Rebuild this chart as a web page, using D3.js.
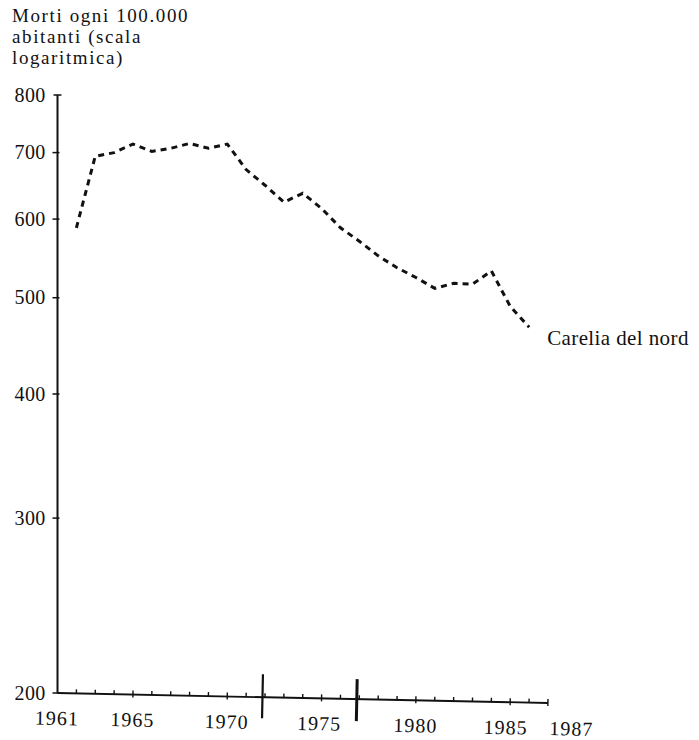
<!DOCTYPE html>
<html>
<head>
<meta charset="utf-8">
<script src="https://cdn.jsdelivr.net/npm/d3@7"></script>
<style>
  html, body { margin: 0; padding: 0; background: #fff; }
  svg { display: block; }
  text { font-family: "Liberation Serif", "Times New Roman", serif; fill: #111; }
</style>
</head>
<body>
<svg id="chart" width="699" height="740"></svg>
<script>
// ---- data ----
const years = [1962,1963,1964,1965,1966,1967,1968,1969,1970,1971,1972,1973,1974,1975,1976,1977,1978,1979,1980,1981,1982,1983,1984,1985,1986];
const deaths = [588,694,700,714,702,707,715,707,714,673,649,624,637,615,588,570,551,536,524,511,517,516,532,490,467];
const yTicks = [200,300,400,500,600,700,800];
const xLabelYears = [1961,1965,1970,1975,1980,1985,1987];
const markerYears = [1972,1977];
const titleLines = ["Morti ogni 100.000", "abitanti (scala", "logaritmica)"];
const seriesLabel = "Carelia del nord";

const svg = d3.select("#chart");

const x = d3.scaleLinear().domain([1961, 1987]).range([57.5, 548]);
const y = d3.scaleLog().domain([200, 800]).range([693, 95]);

// title (three separate lines)
titleLines.forEach((t, i) => {
  svg.append("text").attr("x", 12).attr("y", 22 + i * 21)
    .style("font-size", "19px").style("letter-spacing", "1.6px")
    .text(t);
});

// y axis
const yAxis = svg.append("g");
yAxis.append("line")
  .attr("x1", x(1961)).attr("x2", x(1961))
  .attr("y1", y(800)).attr("y2", y(200))
  .attr("stroke", "#111").attr("stroke-width", 2);
yAxis.selectAll(".yt").data(yTicks).enter().append("line")
  .attr("x1", d => x(1961) - (d === 800 ? 4 : 5))
  .attr("x2", d => x(1961) + (d === 800 ? 4 : 2))
  .attr("y1", d => y(d)).attr("y2", d => y(d))
  .attr("stroke", "#111").attr("stroke-width", 1.5);
yAxis.selectAll(".yl").data(yTicks).enter().append("text")
  .attr("x", x(1961) - 12).attr("y", d => y(d)).attr("dy", "0.33em")
  .attr("text-anchor", "end")
  .style("font-size", "20px").style("letter-spacing", "0.3px")
  .text(d => d);

// x axis (slightly skewed like the scanned page)
const angle = Math.atan2(10, x(1987) - x(1961)) * 180 / Math.PI;
const xAxis = svg.append("g")
  .attr("transform", `rotate(${angle}, ${x(1961)}, ${y(200)})`);
xAxis.append("line")
  .attr("x1", x(1961)).attr("x2", x(1987))
  .attr("y1", y(200)).attr("y2", y(200))
  .attr("stroke", "#111").attr("stroke-width", 1.8);
const allYears = d3.range(1962, 1988);
xAxis.selectAll(".xt").data(allYears).enter().append("line")
  .attr("x1", d => x(d)).attr("x2", d => x(d))
  .attr("y1", d => y(200) - 4)
  .attr("y2", d => (d % 5 === 0 || d === 1987) ? y(200) + 3 : y(200))
  .attr("stroke", "#111").attr("stroke-width", 1.4);
xAxis.selectAll(".xm").data(markerYears).enter().append("line")
  .attr("x1", d => x(d) - 2.5).attr("x2", d => x(d) - 2.5)
  .attr("y1", (d, i) => y(200) - (i === 0 ? 23 : 20))
  .attr("y2", (d, i) => y(200) + (i === 0 ? 21 : 22))
  .attr("stroke", "#111").attr("stroke-width", (d, i) => i === 0 ? 2.2 : 3);
xAxis.selectAll(".xl").data(xLabelYears).enter().append("text")
  .attr("x", d => x(d) + (d === 1987 ? 24 : (d === 1985 ? -4 : (d === 1975 ? -2 : 0))))
  .attr("y", y(200) + 32)
  .attr("text-anchor", "middle")
  .style("font-size", "20px").style("letter-spacing", "1px")
  .text(d => d);

// series line
const line = d3.line()
  .x((d, i) => x(years[i]))
  .y(d => y(d));
svg.append("path")
  .datum(deaths)
  .attr("d", line)
  .attr("fill", "none")
  .attr("stroke", "#111")
  .attr("stroke-width", 3)
  .attr("stroke-dasharray", "6,5");

// series label
const last = deaths.length - 1;
svg.append("text")
  .attr("x", x(years[last]) + 18)
  .attr("y", y(deaths[last]) + 18)
  .style("font-size", "21px").style("letter-spacing", "0.4px")
  .text(seriesLabel);
</script>
</body>
</html>
